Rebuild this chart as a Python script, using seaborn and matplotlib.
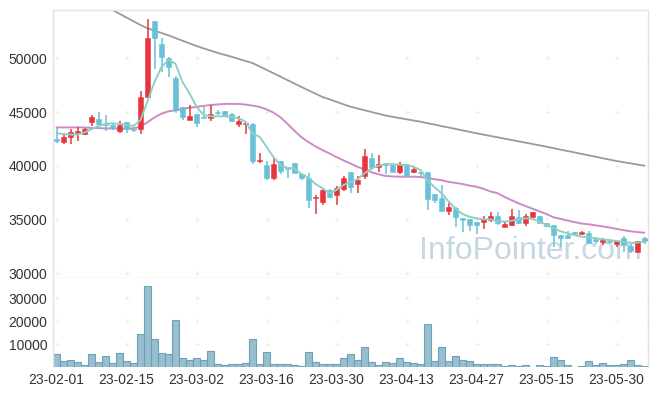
import numpy as np
import pandas as pd
import matplotlib
matplotlib.use("Agg")
import matplotlib.pyplot as plt
import seaborn as sns

# ---- data ----
open_ = [42500, 42250, 42700, 43050, 43000, 44100, 44350, 43900, 43800, 43250,
         44050, 43450, 43450, 46400, 53450, 51350, 50050, 48200, 45450, 44300,
         44800, 44550, 44400, 44950, 45050, 44800, 43900, 43850, 43900, 40400,
         40050, 38900, 40450, 39800, 40300, 39200, 38900, 36950, 36600, 37700,
         37250, 37850, 39400, 38300, 39000, 40700, 39900, 40200, 40050, 39450,
         40150, 39450, 39400, 39400, 37350, 36950, 35800, 36100, 35100, 35050,
         34750, 34750, 34950, 35300, 34300, 34500, 35200, 34650, 35250, 35300,
         34700, 34500, 33550, 33550, 33800, 33650, 33750, 33200, 32900, 32950,
         32700, 33250, 32550, 32000, 33250]
high = [43500, 43000, 43400, 43600, 43500, 44700, 45000, 44750, 43950, 44200,
        44100, 43600, 47000, 53700, 53450, 51850, 50100, 48400, 45450, 45650,
        44800, 45500, 45650, 45200, 45100, 44900, 44650, 44000, 43950, 41150,
        40400, 40700, 40450, 39850, 40300, 39300, 39300, 37300, 37900, 37850,
        38100, 39050, 39400, 39050, 41600, 41150, 41000, 40300, 40200, 40350,
        40200, 40000, 39450, 39400, 37400, 38200, 36500, 36200, 35100, 35050,
        34750, 35300, 35700, 35700, 34800, 35950, 35900, 35550, 35700, 35300,
        34700, 34500, 33550, 33950, 33800, 33900, 33900, 33350, 33300, 33000,
        33000, 33450, 32700, 33000, 33400]
low = [42100, 42000, 42000, 42300, 42900, 43700, 43700, 43200, 43300, 43050,
       43050, 43150, 43000, 46350, 49050, 48700, 48300, 44900, 44300, 44300,
       43600, 44400, 44200, 44700, 44500, 44100, 43600, 42950, 40150, 40250,
       38700, 38700, 39200, 38900, 39300, 38700, 36050, 35550, 36300, 37000,
       36350, 37650, 37450, 37450, 38750, 39600, 39400, 39200, 39400, 39200,
       38950, 39300, 38950, 35900, 36500, 35800, 35400, 34250, 33850, 33950,
       33650, 34150, 34750, 34500, 34250, 34400, 34550, 34400, 35200, 34700,
       34250, 32450, 32450, 33150, 33500, 33600, 32800, 32750, 32650, 32800,
       32450, 31950, 31850, 31950, 32750]
close = [42300, 42700, 43100, 43200, 43400, 44550, 43900, 43800, 43550, 43800,
         43400, 43350, 46400, 51900, 51850, 50100, 49200, 45200, 44550, 44650,
         43950, 44450, 44800, 44900, 44750, 44200, 44150, 43950, 40450, 40550,
         38900, 40150, 39550, 39700, 39300, 38900, 36800, 37100, 37700, 37050,
         37900, 38900, 38050, 38650, 40900, 39900, 40150, 40100, 39450, 40150,
         39000, 39650, 39300, 36900, 36800, 35800, 36200, 35250, 34950, 34500,
         34500, 35050, 35300, 34650, 34550, 35300, 34700, 35350, 35700, 34700,
         34400, 33550, 33250, 33250, 33650, 33850, 32850, 32950, 33050, 32900,
         32950, 32600, 32050, 32950, 32950]
volume = [5500, 2450, 3050, 2150, 850, 5500, 2150, 4800, 1600, 5950,
          2450, 1600, 14350, 35200, 12050, 5950, 5500, 20450, 3750, 3050,
          3750, 3050, 6950, 1150, 700, 1150, 1150, 1600, 12050, 1150,
          6400, 1150, 1150, 1150, 700, 300, 6400, 2050, 1150, 1150,
          1150, 3750, 5500, 3050, 8550, 2050, 850, 2050, 1600, 3750,
          2050, 1600, 1150, 18550, 2450, 8550, 2450, 4650, 3050, 2450,
          1150, 1150, 1150, 1150, 450, 700, 450, 700, 0, 700,
          450, 4200, 3050, 700, 0, 450, 2450, 700, 1600, 700,
          700, 1150, 3050, 700, 450]
ma5 = [43020, 42950, 42900, 42900, 43100, 43400, 43700, 43900, 43950, 43900,
       43800, 43700, 44250, 46000, 47800, 49200, 49840, 49500, 47800, 46740,
       45500, 44720, 44600, 44600, 44600, 44550, 44420, 44100, 43000, 42700,
       41770, 40800, 40070, 39800, 39750, 39200, 38900, 38300, 37900, 37430,
       37750, 38200, 38500, 38740, 39300, 39760, 40000, 40160, 40150, 40100,
       40070, 39900, 39600, 38670, 38000, 37430, 36700, 36000, 35500, 35250,
       35100, 35000, 35000, 34850, 34800, 34880, 35000, 35100, 35050, 34800,
       34500, 34170, 33900, 33710, 33550, 33400, 33330, 33250, 33150, 33080,
       33000, 32900, 32830, 32850, 32920]
ma20 = [43570, 43570, 43570, 43570, 43560, 43520, 43500, 43480, 43470, 43460,
        43460, 43480, 43650, 44050, 44500, 44850, 45070, 45150, 45300, 45400,
        45480, 45570, 45650, 45710, 45750, 45760, 45750, 45700, 45600, 45480,
        45250, 44950, 44500, 43900, 43250, 42650, 42200, 41800, 41450, 41150,
        40800, 40500, 40200, 39900, 39650, 39400, 39200, 39050, 39000, 38980,
        38980, 38980, 38950, 38850, 38750, 38650, 38500, 38400, 38300, 38150,
        38050, 37850, 37600, 37450, 37100, 36800, 36500, 36250, 36000, 35750,
        35500, 35200, 35050, 34900, 34750, 34620, 34550, 34450, 34350, 34250,
        34120, 34000, 33900, 33820, 33760]
ma120 = [57600, 57200, 56800, 56400, 56000, 55600, 55200, 54850, 54500, 54150,
         53800, 53450, 53100, 52800, 52580, 52360, 52140, 51890, 51640, 51390,
         51150, 50930, 50720, 50510, 50330, 50150, 49950, 49750, 49560, 49250,
         48930, 48610, 48290, 47970, 47650, 47330, 47020, 46710, 46400, 46180,
         45950, 45720, 45500, 45330, 45170, 45000, 44840, 44675, 44560, 44440,
         44330, 44210, 44100, 43960, 43830, 43690, 43560, 43430, 43290, 43160,
         43020, 42900, 42770, 42650, 42520, 42400, 42270, 42150, 42020, 41900,
         41770, 41640, 41500, 41370, 41240, 41100, 40970, 40840, 40700, 40570,
         40440, 40330, 40220, 40110, 40000]
tick_pos = [0, 10, 20, 30, 40, 50, 60, 70, 80]
tick_labels = ["23-02-01", "23-02-15", "23-03-02", "23-03-16", "23-03-30",
               "23-04-13", "23-04-27", "23-05-15", "23-05-30"]
price_ticks = [30000, 35000, 40000, 45000, 50000]
vol_ticks = [10000, 20000, 30000]

# ---- style ----
sns.set_theme(style="white")
plt.rcParams["font.family"] = ["Liberation Sans", "DejaVu Sans"]

UP = "#e8343b"
DOWN = "#66c1d9"
SPINE = "#e3e3e3"
TXT = "#333333"
CROSS = "#ececec"

n = len(close)
df = pd.DataFrame({"x": np.arange(n), "open": open_, "high": high, "low": low,
                   "close": close, "volume": volume,
                   "ma5": ma5, "ma20": ma20, "ma120": ma120})
df["up"] = df["close"] >= df["open"]
df["color"] = np.where(df["up"], UP, DOWN)

W, H = 657, 396
fig = plt.figure(figsize=(W / 100, H / 100), dpi=100)
axp = fig.add_axes([53 / W, 1 - 278.3 / H, 595 / W, 268.3 / H])
axv = fig.add_axes([53 / W, 1 - 367 / H, 595 / W, 88.7 / H])

# watermark
axp.text(0.99, 0.045, "InfoPointer.com", transform=axp.transAxes,
         ha="right", va="bottom", fontsize=23, color="#c6d7e4", zorder=0)

# moving averages
sns.lineplot(data=df, x="x", y="ma120", ax=axp, color="#9a9a9a", lw=1.3, zorder=2)
sns.lineplot(data=df, x="x", y="ma20", ax=axp, color="#cc8bc6", lw=1.4, zorder=2)

# candles
axp.vlines(df["x"], df["low"], df["high"], colors=df["color"], lw=1.1, zorder=3)
body_lo = np.minimum(df["open"], df["close"])
body_h = np.maximum(np.abs(df["close"] - df["open"]), 60)
axp.bar(df["x"], body_h, bottom=body_lo, width=0.7, color=df["color"],
        edgecolor=df["color"], linewidth=0.4, zorder=4)

sns.lineplot(data=df, x="x", y="ma5", ax=axp, color="#8fcfc4", lw=1.4, zorder=5)

axp.set_xlim(-0.5, n - 0.5)
axp.set_ylim(29520, 54500)
axp.set_yticks(price_ticks)
axp.set_yticklabels([str(v) for v in price_ticks])
axp.set_xticks([])
axp.set_xlabel("")
axp.set_ylabel("")

# grid crosses
gx = tick_pos + [n - 0.5]
for yv in price_ticks:
    axp.scatter(gx, [yv] * len(gx), marker="+", s=10, color=CROSS,
                linewidths=0.8, zorder=1, clip_on=False)

# volume
sns.barplot(data=df, x="x", y="volume", ax=axv, color="#93bccd",
            edgecolor="#6a9fb6", linewidth=0.8, width=1.0, saturation=1,
            zorder=2)
for p in axv.patches:
    p.set_alpha(0.95)
axv.set_xlim(-0.5, n - 0.5)
axv.set_ylim(0, 38700)
axv.set_yticks(vol_ticks)
axv.set_yticklabels([str(v) for v in vol_ticks])
axv.set_xticks(tick_pos)
axv.set_xticklabels(tick_labels)
axv.set_xlabel("")
axv.set_ylabel("")
for yv in vol_ticks:
    axv.scatter(gx, [yv] * len(gx), marker="+", s=10, color=CROSS,
                linewidths=0.8, zorder=1, clip_on=False)

for ax in (axp, axv):
    ax.tick_params(axis="both", length=0, labelsize=10, labelcolor=TXT)
    ax.tick_params(axis="y", pad=4)
    ax.tick_params(axis="x", pad=4)
    for s in ax.spines.values():
        s.set_color(SPINE)
        s.set_linewidth(1.0)
axv.spines["bottom"].set_visible(False)
axv.spines["top"].set_visible(False)

fig.savefig("out.png", dpi=100)
